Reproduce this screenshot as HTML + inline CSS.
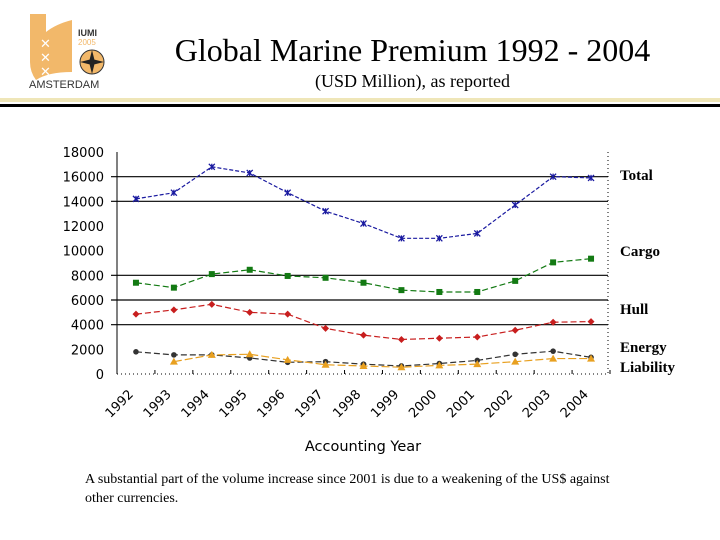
<!DOCTYPE html>
<html><head><meta charset="utf-8"><style>
body{margin:0;width:720px;height:540px;background:#fff;overflow:hidden;position:relative;font-family:"Liberation Serif",serif}
.t{position:absolute;left:0;width:720px;text-align:center}
</style></head><body>
<div style="position:absolute;left:28px;top:12px;width:90px;height:80px">
<svg width="90" height="80">
<path d="M2 2 L18 2 L18 20 Q28 12 44 8 L44 60 Q20 60 8 68 Q2 60 2 50 Z" fill="#f2b86a"/>
<text x="12" y="36" font-size="13" fill="#fff" font-family="Liberation Sans">✕</text>
<text x="12" y="50" font-size="13" fill="#fff" font-family="Liberation Sans">✕</text>
<text x="12" y="64" font-size="13" fill="#fff" font-family="Liberation Sans">✕</text>
<text x="50" y="24" font-size="9" font-weight="bold" fill="#333" font-family="Liberation Sans">IUMI</text>
<text x="50" y="33" font-size="8" fill="#f2b86a" font-family="Liberation Sans">2005</text>
<circle cx="64" cy="50" r="12" fill="#f2b86a" stroke="#333"/>
<path d="M64 38 L67 50 L64 62 L61 50 Z M52 50 L64 47 L76 50 L64 53 Z" fill="#222"/>
<text x="1" y="76" font-size="11" fill="#333" font-family="Liberation Sans">AMSTERDAM</text>
</svg></div>
<div class="t" style="top:32px;font-size:32px;padding-left:105px;box-sizing:border-box">Global Marine Premium 1992 - 2004</div>
<div class="t" style="top:71px;font-size:18px;padding-left:105px;box-sizing:border-box">(USD Million), as reported</div>
<div style="position:absolute;left:0;top:98px;width:720px;height:4px;background:#efe6b8"></div>
<div style="position:absolute;left:0;top:104px;width:720px;height:3px;background:#000"></div>
<svg id="chart" width="720" height="540" style="position:absolute;left:0;top:0"></svg>
<div style="position:absolute;left:85px;top:470px;width:545px;font-size:14px;line-height:19px">A substantial part of the volume increase since 2001 is due to a weakening of the US$ against other currencies.</div>
<script>
const years=["1992","1993","1994","1995","1996","1997","1998","1999","2000","2001","2002","2003","2004"];
const yTicks=[0,2000,4000,6000,8000,10000,12000,14000,16000,18000];
const gridTicks=[4000,6000,8000,14000,16000];
const total=[14200,14700,16800,16300,14700,13200,12200,11000,11000,11400,13700,16000,15900];
const cargo=[7400,7000,8100,8450,7950,7800,7400,6800,6650,6650,7550,9050,9350];
const hull=[4850,5200,5650,5000,4850,3700,3150,2800,2900,3000,3550,4200,4250];
const energy=[1800,1550,1550,1300,950,1000,800,650,850,1100,1600,1850,1350];
const liability=[null,1000,1550,1600,1150,750,650,550,700,800,1000,1250,1250];
const seriesNames=["Total","Cargo","Hull","Energy","Liability"];
const X0=117,X1=610,Y0=374,Y1=152,YMAX=18000;
const svg=document.getElementById('chart');const NS='http://www.w3.org/2000/svg';
function xs(i){return X0+(X1-X0)/years.length*(i+0.5);}
function ys(v){return Y0-(Y0-Y1)*v/YMAX;}
function mk(tag,attrs,parent){const e=document.createElementNS(NS,tag);for(const k in attrs)e.setAttribute(k,attrs[k]);(parent||svg).appendChild(e);return e;}
gridTicks.forEach(v=>{const l=mk('line',{x1:X0-6,x2:X1-2,y1:ys(v),y2:ys(v),stroke:'#000','stroke-width':1.2});

});
yTicks.forEach(v=>{const t=mk('text',{x:104,y:ys(v)+5,'text-anchor':'end','font-size':13,'font-family':'DejaVu Sans, sans-serif'});t.textContent=v;

});
let a=mk('line',{x1:X0,x2:X0,y1:Y1,y2:Y0,stroke:'#000'});


a=mk('line',{x1:X0,x2:X1-2,y1:Y0,y2:Y0,stroke:'#000','stroke-dasharray':'1,3'});


a=mk('line',{x1:X1-2,x2:X1-2,y1:Y1,y2:Y0,stroke:'#000','stroke-dasharray':'1,3'});


years.forEach((y,i)=>{const tk=mk('line',{x1:X0+(X1-X0)/years.length*(i+1),x2:X0+(X1-X0)/years.length*(i+1),y1:Y0,y2:Y0-4,stroke:'#000'});


const cx=xs(i)-2,cy=Y0+21;const t=mk('text',{x:cx,y:cy,'text-anchor':'end','font-size':13,'font-family':'DejaVu Sans, sans-serif',transform:`rotate(-45 ${cx} ${cy})`});t.textContent=y;

});
let at=mk('text',{x:363,y:451,'text-anchor':'middle','font-size':14.5,'font-family':'DejaVu Sans, sans-serif'});at.textContent='Accounting Year';


const data=[total,cargo,hull,energy,liability];
const colors=['#1a1aa0','#137a13','#c81e1e','#333333','#e8a020'];
const dashes=['4,2','6,3','6,3','6,3','8,3'];
data.forEach((arr,si)=>{let d='';arr.forEach((v,i)=>{if(v==null)return;d+=(d?'L':'M')+xs(i)+' '+ys(v);});
const p=mk('path',{d:d,fill:'none',stroke:colors[si],'stroke-width':1.2,'stroke-dasharray':dashes[si]});


arr.forEach((v,i)=>{if(v==null)return;const x=xs(i),y=ys(v);let m;
if(si==0){m=mk('path',{d:`M${x-3} ${y-3}L${x+3} ${y+3}M${x-3} ${y+3}L${x+3} ${y-3}M${x} ${y-3}L${x} ${y+3}`,stroke:colors[si],'stroke-width':1.3});}
else if(si==1){m=mk('rect',{x:x-3,y:y-3,width:6,height:6,fill:colors[si]});}
else if(si==2){m=mk('path',{d:`M${x} ${y-3.5}L${x+3.5} ${y}L${x} ${y+3.5}L${x-3.5} ${y}Z`,fill:colors[si]});}
else if(si==3){m=mk('circle',{cx:x,cy:y,r:2.8,fill:colors[si]});}
else{m=mk('path',{d:`M${x} ${y-4}L${x+4} ${y+3}L${x-4} ${y+3}Z`,fill:colors[si]});}

});});
[['Total',180],['Cargo',256],['Hull',314],['Energy',352],['Liability',372]].forEach(([n,y])=>{const t=mk('text',{x:620,y:y,'font-size':15,'font-weight':'bold','font-family':'Liberation Serif, serif'});t.textContent=n;

});
</script>
</body></html>
